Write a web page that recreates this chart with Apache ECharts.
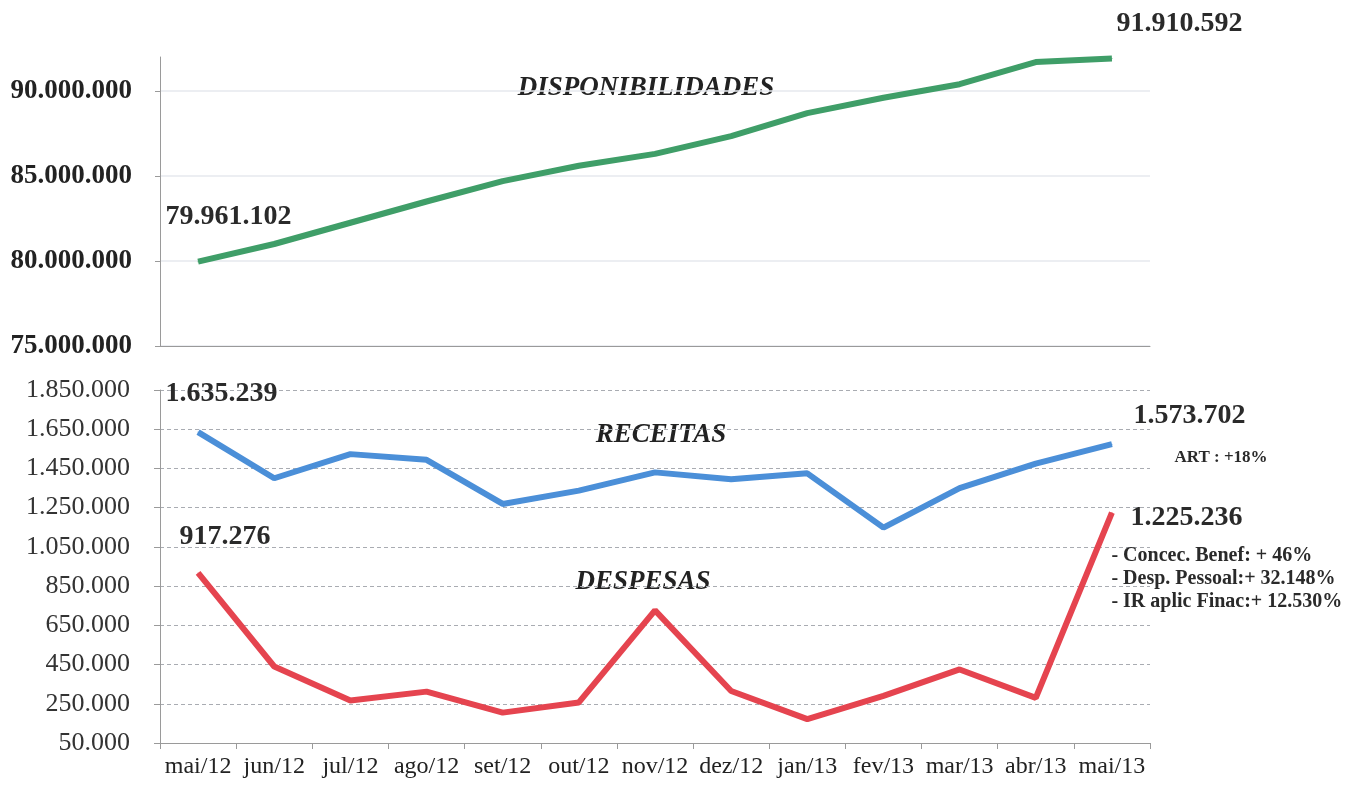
<!DOCTYPE html>
<html>
<head>
<meta charset="utf-8">
<title>Disponibilidades, Receitas e Despesas</title>
<script src="https://cdn.jsdelivr.net/npm/echarts@6/dist/echarts.min.js"></script>
<style>
  html, body { margin: 0; padding: 0; background: #fff; }
  #chart { width: 1351px; height: 785px; }
</style>
</head>
<body>
<div id="chart"></div>
<script>
// months on the shared x axis
const months = ["mai/12", "jun/12", "jul/12", "ago/12", "set/12", "out/12", "nov/12",
  "dez/12", "jan/13", "fev/13", "mar/13", "abr/13", "mai/13"];

// values in R$
const disponibilidades = [79961102, 81000000, 82250000, 83500000, 84700000, 85600000, 86300000,
  87350000, 88700000, 89600000, 90400000, 91700000, 91910592];
const receitas = [1635239, 1400000, 1523000, 1494000, 1269000, 1337000, 1430000,
  1395000, 1425000, 1148000, 1350000, 1475000, 1573702];
const despesas = [917276, 440000, 267000, 312000, 205000, 257000, 726000,
  315000, 172000, 290000, 425000, 280000, 1225236];

// notes next to the last points
const receitasNotes = ["ART : +18%"];
const despesasNotes = ["- Concec. Benef: + 46%", "- Desp. Pessoal:+ 32.148%", "- IR aplic Finac:+ 12.530%"];

const serif = "'Liberation Serif', 'Times New Roman', serif";

function fmt(v) {
  return String(Math.round(v)).replace(/\B(?=(\d{3})+(?!\d))/g, ".");
}

// put a label on the first and the last point of a series
function withEndLabels(values, firstPos, lastPos, lastFormatter, lastRich) {
  return values.map(function(v, i) {
    if (i === 0) {
      return { value: v, label: { show: true, position: firstPos } };
    }
    if (i === values.length - 1) {
      const item = { value: v, label: { show: true, position: lastPos } };
      if (lastFormatter) item.label.formatter = lastFormatter;
      if (lastRich) item.label.rich = lastRich;
      return item;
    }
    return v;
  });
}

function valueStyle(lineHeight, padLeft) {
  return { fontFamily: serif, fontWeight: "bold", fontSize: 28, color: "#2a2a2a",
    lineHeight: lineHeight, padding: [0, 0, 0, padLeft] };
}

function noteStyle(size, lineHeight, padLeft) {
  return { fontFamily: serif, fontWeight: "bold", fontSize: size, color: "#2a2a2a",
    lineHeight: lineHeight, padding: [0, 0, 0, padLeft] };
}

function lineLabel() {
  return {
    fontFamily: serif, fontSize: 28, fontWeight: "bold", color: "#2a2a2a",
    formatter: function(p) { return fmt(p.value); }
  };
}

function seriesTitle(text, x, y) {
  return {
    type: "text", x: x, y: y,
    style: { text: text, font: "italic bold 27px " + serif, fill: "#222",
      textAlign: "center", textVerticalAlign: "middle" }
  };
}

const myChart = echarts.init(document.getElementById("chart"));

const option = {
  backgroundColor: "#fff",
  animation: false,
  grid: [
    { left: 160, right: 201, top: 57, height: 289 },
    { left: 160, right: 201, top: 390, bottom: 42 }
  ],
  xAxis: [
    {
      type: "category",
      gridIndex: 0,
      data: months,
      boundaryGap: true,
      axisLine: { lineStyle: { color: "#9a9a9a" } },
      axisTick: { show: false },
      axisLabel: { show: false }
    },
    {
      type: "category",
      gridIndex: 1,
      data: months,
      boundaryGap: true,
      axisLine: { lineStyle: { color: "#9a9a9a" } },
      axisTick: { show: true, length: 6, lineStyle: { color: "#9a9a9a" } },
      axisLabel: { interval: 0, fontFamily: serif, fontSize: 24, color: "#222", margin: 12 }
    }
  ],
  yAxis: [
    {
      type: "value",
      gridIndex: 0,
      min: 75000000,
      max: 92000000,
      interval: 5000000,
      axisLine: { show: true, lineStyle: { color: "#9a9a9a" } },
      axisTick: { show: true, length: 5, lineStyle: { color: "#9a9a9a" } },
      axisLabel: {
        fontFamily: serif, fontSize: 27, fontWeight: "bold", color: "#222", margin: 28,
        showMaxLabel: false,
        formatter: fmt
      },
      splitLine: { show: true, showMaxLine: false, lineStyle: { color: "#e6e9ee", width: 1.5 } }
    },
    {
      type: "value",
      gridIndex: 1,
      min: 50000,
      max: 1850000,
      interval: 200000,
      axisLine: { show: true, lineStyle: { color: "#9a9a9a" } },
      axisTick: { show: true, length: 6, lineStyle: { color: "#9a9a9a" } },
      axisLabel: { fontFamily: serif, fontSize: 26, color: "#333", margin: 30, formatter: fmt },
      splitLine: { show: true, lineStyle: { color: "#a9acb2", type: [4, 3], width: 1 } }
    }
  ],
  series: [
    {
      name: "DISPONIBILIDADES",
      type: "line",
      xAxisIndex: 0,
      yAxisIndex: 0,
      symbol: "circle",
      symbolSize: 1,
      lineStyle: { color: "#3f9e68", width: 6 },
      itemStyle: { color: "#3f9e68" },
      label: lineLabel(),
      data: withEndLabels(disponibilidades, [-32, -58], [5, -48])
    },
    {
      name: "RECEITAS",
      type: "line",
      xAxisIndex: 1,
      yAxisIndex: 1,
      symbol: "circle",
      symbolSize: 1,
      lineStyle: { color: "#4b8fd8", width: 6 },
      itemStyle: { color: "#4b8fd8" },
      label: lineLabel(),
      data: withEndLabels(receitas, [-32, -52], [22, -42], function(p) {
        return "{v|" + fmt(p.value) + "}\n" +
          receitasNotes.map(function(n) { return "{n|" + n + "}"; }).join("\n");
      }, {
        v: valueStyle(28, 0),
        n: noteStyle(17, 56, 41)
      })
    },
    {
      name: "DESPESAS",
      type: "line",
      xAxisIndex: 1,
      yAxisIndex: 1,
      symbol: "circle",
      symbolSize: 1,
      lineStyle: { color: "#e5444f", width: 6 },
      itemStyle: { color: "#e5444f" },
      label: lineLabel(),
      data: withEndLabels(despesas, [-18, -50], [0, -21], function(p) {
        return "{v|" + fmt(p.value) + "}\n" +
          despesasNotes.map(function(n) { return "{n|" + n + "}"; }).join("\n");
      }, {
        v: valueStyle(53, 19),
        n: noteStyle(20, 23, 0)
      })
    }
  ],
  graphic: [
    seriesTitle("DISPONIBILIDADES", 646, 88),
    seriesTitle("RECEITAS", 661, 435),
    seriesTitle("DESPESAS", 643, 582)
  ]
};

myChart.setOption(option);
</script>
</body>
</html>
